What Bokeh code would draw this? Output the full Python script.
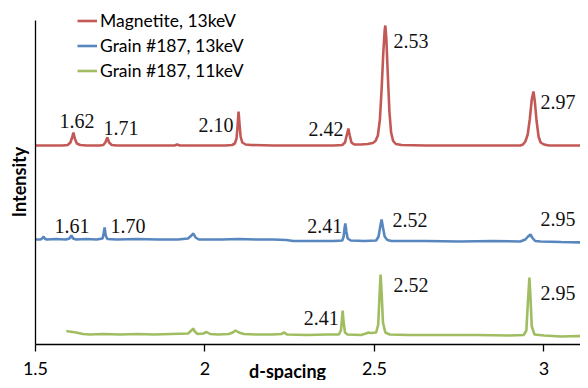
import math
from bokeh.plotting import figure
from bokeh.models import Legend, LegendItem, Label, FixedTicker, ColumnDataSource
from bokeh.core.properties import value
from bokeh.embed import file_html
from bokeh.resources import INLINE

# ---- data (d-spacing vs. intensity, arbitrary units, series offset as in original) ----
red_d = [1.500, 1.540, 1.580, 1.595, 1.603, 1.608, 1.612, 1.616, 1.622, 1.632, 1.650,
         1.690, 1.700, 1.706, 1.712, 1.717, 1.725, 1.740, 1.800, 1.860, 1.910, 1.918,
         1.926, 2.000, 2.060, 2.080, 2.088, 2.093, 2.096, 2.099, 2.102, 2.105, 2.110,
         2.120, 2.135, 2.200, 2.300, 2.380, 2.405, 2.413, 2.418, 2.423, 2.427, 2.432,
         2.440, 2.460, 2.480, 2.495, 2.503, 2.510, 2.516, 2.521, 2.526, 2.530, 2.532,
         2.535, 2.539, 2.544, 2.549, 2.555, 2.563, 2.580, 2.650, 2.750, 2.850, 2.930,
         2.938, 2.945, 2.952, 2.958, 2.964, 2.969, 2.973, 2.978, 2.984, 2.990, 3.000,
         3.015, 3.050, 3.131]
red_y = [199, 199, 199, 199.5, 202, 207, 212, 206, 201, 199.5, 199,
         199, 199.5, 202, 207, 202, 199.5, 199, 199, 199, 199, 200,
         199, 199, 199, 199.5, 201, 206, 218, 233, 220, 208, 202,
         200, 199.5, 199, 199, 199, 199.5, 202, 209, 216, 209, 202,
         200, 200, 200.5, 201.5, 203.5, 209, 225, 255, 292, 314, 319,
         306, 272, 233, 212, 203.5, 200.5, 199.5, 199, 199, 199, 199,
         200, 203, 210, 225, 245, 253, 243, 224, 208, 202, 200,
         199, 199, 199]

blue_d = [1.500, 1.515, 1.521, 1.524, 1.527, 1.533, 1.560, 1.590, 1.600, 1.606, 1.611,
          1.620, 1.650, 1.680, 1.698, 1.701, 1.704, 1.707, 1.712, 1.740, 1.800, 1.860,
          1.920, 1.950, 1.960, 1.966, 1.972, 1.982, 2.050, 2.100, 2.150, 2.200, 2.240,
          2.260, 2.300, 2.380, 2.405, 2.409, 2.412, 2.414, 2.417, 2.421, 2.430, 2.470,
          2.505, 2.512, 2.517, 2.521, 2.525, 2.530, 2.538, 2.550, 2.650, 2.750, 2.850,
          2.930, 2.945, 2.953, 2.960, 2.966, 2.974, 2.990, 3.050, 3.131]
blue_y = [105, 105, 106.5, 108, 106, 105, 105.5, 105, 106, 109, 106,
          105, 105.5, 105, 106, 111, 117, 109, 105.5, 105, 105.5, 105,
          105, 106, 109, 111, 107, 105, 105, 105.5, 105, 105, 104.5,
          103.5, 103.5, 103.5, 104, 108, 117, 121, 113, 106, 104, 103.5,
          104, 108, 118, 125, 117, 108, 104.5, 103.5, 103.5, 103, 103.5,
          103, 105, 108, 110, 106.5, 103.5, 103, 102.5, 102]

green_d = [1.591, 1.600, 1.620, 1.640, 1.660, 1.700, 1.750, 1.800, 1.850, 1.900, 1.950,
           1.960, 1.965, 1.970, 1.978, 1.995, 2.005, 2.015, 2.040, 2.070, 2.082, 2.090,
           2.100, 2.115, 2.150, 2.200, 2.225, 2.234, 2.242, 2.300, 2.360, 2.395, 2.401,
           2.404, 2.406, 2.409, 2.413, 2.420, 2.460, 2.475, 2.482, 2.490, 2.505, 2.511,
           2.515, 2.518, 2.521, 2.525, 2.532, 2.545, 2.600, 2.700, 2.800, 2.900, 2.940,
           2.948, 2.953, 2.957, 2.960, 2.964, 2.972, 3.000, 3.050, 3.100, 3.131]
green_y = [13.5, 13, 12, 10.5, 10, 10.5, 10, 10.5, 10, 10.5, 11,
           14, 16, 13, 10.5, 11, 12.5, 10.5, 10, 10.5, 12, 14,
           12, 10.5, 10, 10, 10.5, 12, 10, 9.5, 10, 10, 14,
           25, 34, 22, 12, 10, 9.5, 11, 12, 11.5, 12, 20,
           50, 70, 52, 22, 12, 10, 9.5, 9.5, 9.5, 9, 9.5,
           14, 45, 67, 48, 18, 10, 9, 8, 8.5, 8]

series_names = ["Magnetite, 13keV", "Grain #187, 13keV", "Grain #187, 11keV"]
series_colors = ["#C0504D", "#4F81BD", "#9BBB59"]

# peak annotations
ann_x = [1.571, 1.701, 1.981, 2.305, 2.556, 2.990,
         1.556, 1.721, 2.302, 2.553, 2.990,
         2.291, 2.556, 2.990]
ann_y = [224, 217, 220, 216, 304, 243,
         119, 119, 119, 125, 126,
         27, 60, 52]
ann_text = ["1.62", "1.71", "2.10", "2.42", "2.53", "2.97",
            "1.61", "1.70", "2.41", "2.52", "2.95",
            "2.41", "2.52", "2.95"]

x_ticks = [1.5, 2.0, 2.5, 3.0]
x_tick_labels = ["1.5", "2", "2.5", "3"]
x_axis_span = (1.5, 3.2)
y_axis_span = (0, 324)

# ---- figure: the frame fills the canvas, axes are drawn at fixed locations ----
p = figure(width=580, height=380, x_range=(1.3968, 3.1077), y_range=(-36, 344),
           output_backend="svg", toolbar_location=None,
           min_border=0, min_border_left=0, min_border_right=0,
           min_border_top=0, min_border_bottom=0)
p.outline_line_color = None
p.xgrid.visible = False
p.ygrid.visible = False
p.background_fill_color = "white"
p.border_fill_color = "white"

renderers = []
for xs, ys, c in zip([red_d, blue_d, green_d], [red_y, blue_y, green_y], series_colors):
    r = p.line(xs, ys, line_color=c, line_width=2.6, line_alpha=0.95)
    renderers.append(r)

src = ColumnDataSource(dict(x=ann_x, y=ann_y, t=ann_text))
p.text(x="x", y="y", text="t", source=src, text_font=value("Liberation Serif"),
       text_font_size="20px", text_color="#111111", text_align="left",
       text_baseline="middle")

# x axis
xa = p.xaxis[0]
xa.fixed_location = y_axis_span[0]
xa.bounds = x_axis_span
xa.ticker = FixedTicker(ticks=x_ticks)
xa.major_label_overrides = {t: l for t, l in zip(x_ticks, x_tick_labels)}
xa.minor_tick_line_color = None
xa.major_tick_out = 7
xa.major_tick_in = 0
xa.major_tick_line_color = "#000000"
xa.major_tick_line_width = 1.3
xa.axis_line_color = "#000000"
xa.axis_line_width = 1.3
xa.major_label_text_font = "Lato"
xa.major_label_text_font_size = "18px"
xa.major_label_text_color = "#000000"
xa.major_label_standoff = 10

# y axis (line only)
ya = p.yaxis[0]
ya.fixed_location = x_axis_span[0]
ya.bounds = y_axis_span
ya.ticker = FixedTicker(ticks=[])
ya.minor_tick_line_color = None
ya.major_tick_line_color = None
ya.major_label_text_font_size = "0px"
ya.axis_line_color = "#000000"
ya.axis_line_width = 1.3

# axis titles
p.add_layout(Label(x=1.4528, y=162.5, text="Intensity", angle=math.pi / 2,
                   text_font="Lato", text_font_style="bold", text_font_size="18px",
                   text_color="#000000", text_align="center", text_baseline="middle"))
p.add_layout(Label(x=2.2434, y=-26, text="d-spacing",
                   text_font="Lato", text_font_style="bold", text_font_size="18px",
                   text_color="#000000", text_align="center", text_baseline="middle"))

legend = Legend(items=[LegendItem(label=n, renderers=[r]) for n, r in zip(series_names, renderers)],
                location=(77, 297), orientation="vertical",
                label_text_font="Lato", label_text_font_size="17.5px", label_text_color="#000000",
                glyph_width=20, glyph_height=25, label_height=25, label_standoff=3,
                spacing=0, padding=0, margin=0, border_line_color=None,
                background_fill_alpha=0)
p.add_layout(legend)

open("out.html", "w").write(file_html(p, INLINE))
